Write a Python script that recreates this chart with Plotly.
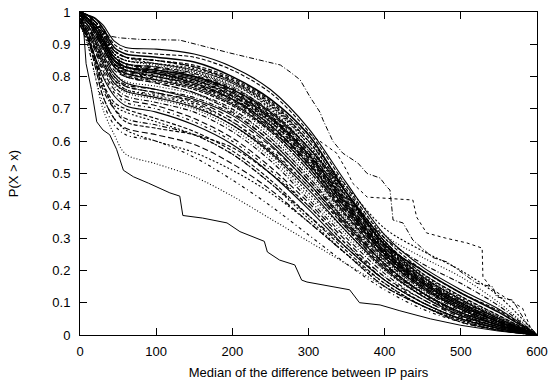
import plotly.graph_objects as go

# ---------------- data ----------------
x_grid = [0, 10, 20, 30, 45, 60, 100, 150, 200, 250, 300, 350, 400, 450, 500, 550, 600]

# dense core band
core_01 = [1.00, 0.99, 0.98, 0.95, 0.89, 0.87, 0.86, 0.845, 0.80, 0.73, 0.62, 0.44, 0.28, 0.20, 0.13, 0.07, 0.0]
core_02 = [1.00, 0.99, 0.97, 0.94, 0.88, 0.86, 0.85, 0.83, 0.79, 0.72, 0.60, 0.44, 0.29, 0.19, 0.12, 0.06, 0.0]
core_03 = [1.00, 0.98, 0.97, 0.93, 0.87, 0.85, 0.84, 0.82, 0.78, 0.70, 0.58, 0.43, 0.28, 0.18, 0.11, 0.05, 0.0]
core_04 = [0.99, 0.98, 0.96, 0.93, 0.87, 0.84, 0.83, 0.81, 0.77, 0.69, 0.57, 0.42, 0.28, 0.18, 0.10, 0.05, 0.0]
core_05 = [1.00, 0.99, 0.96, 0.92, 0.86, 0.84, 0.82, 0.80, 0.76, 0.68, 0.56, 0.41, 0.27, 0.17, 0.10, 0.045, 0.0]
core_06 = [1.00, 0.98, 0.96, 0.92, 0.86, 0.83, 0.82, 0.80, 0.75, 0.67, 0.55, 0.40, 0.26, 0.17, 0.10, 0.04, 0.0]
core_07 = [0.99, 0.98, 0.95, 0.91, 0.85, 0.83, 0.81, 0.79, 0.74, 0.66, 0.54, 0.40, 0.26, 0.16, 0.09, 0.04, 0.0]
core_08 = [1.00, 0.98, 0.95, 0.91, 0.85, 0.82, 0.81, 0.78, 0.73, 0.65, 0.53, 0.39, 0.25, 0.16, 0.09, 0.04, 0.0]
core_09 = [0.99, 0.97, 0.95, 0.90, 0.84, 0.82, 0.80, 0.78, 0.73, 0.64, 0.52, 0.38, 0.25, 0.15, 0.085, 0.035, 0.0]
core_10 = [1.00, 0.98, 0.94, 0.90, 0.84, 0.81, 0.80, 0.77, 0.72, 0.63, 0.51, 0.37, 0.24, 0.15, 0.08, 0.035, 0.0]
core_11 = [0.98, 0.97, 0.94, 0.89, 0.83, 0.81, 0.79, 0.76, 0.71, 0.62, 0.50, 0.36, 0.23, 0.14, 0.08, 0.03, 0.0]
core_12 = [1.00, 0.97, 0.93, 0.89, 0.83, 0.80, 0.78, 0.75, 0.70, 0.61, 0.49, 0.35, 0.23, 0.14, 0.075, 0.03, 0.0]
core_13 = [0.99, 0.97, 0.93, 0.88, 0.82, 0.80, 0.78, 0.75, 0.69, 0.60, 0.48, 0.35, 0.22, 0.13, 0.07, 0.03, 0.0]
core_14 = [1.00, 0.98, 0.94, 0.89, 0.83, 0.80, 0.79, 0.77, 0.73, 0.66, 0.55, 0.42, 0.28, 0.17, 0.10, 0.045, 0.0]
core_15 = [0.99, 0.98, 0.95, 0.91, 0.85, 0.83, 0.82, 0.80, 0.76, 0.69, 0.58, 0.44, 0.29, 0.18, 0.11, 0.05, 0.0]
core_16 = [1.00, 0.99, 0.97, 0.94, 0.88, 0.86, 0.85, 0.835, 0.795, 0.725, 0.61, 0.45, 0.29, 0.19, 0.12, 0.06, 0.0]
core_17 = [1.00, 0.99, 0.97, 0.93, 0.87, 0.85, 0.84, 0.825, 0.785, 0.715, 0.60, 0.44, 0.285, 0.185, 0.115, 0.055, 0.0]
core_18 = [0.99, 0.98, 0.96, 0.93, 0.87, 0.85, 0.835, 0.815, 0.775, 0.705, 0.59, 0.43, 0.28, 0.18, 0.11, 0.05, 0.0]
core_19 = [1.00, 0.98, 0.96, 0.92, 0.86, 0.84, 0.83, 0.81, 0.765, 0.695, 0.58, 0.425, 0.275, 0.175, 0.105, 0.05, 0.0]
core_20 = [1.00, 0.98, 0.96, 0.92, 0.86, 0.84, 0.825, 0.805, 0.76, 0.685, 0.57, 0.415, 0.27, 0.17, 0.10, 0.045, 0.0]
core_21 = [0.99, 0.98, 0.95, 0.92, 0.86, 0.835, 0.82, 0.80, 0.755, 0.68, 0.565, 0.41, 0.265, 0.17, 0.10, 0.045, 0.0]
core_22 = [1.00, 0.98, 0.95, 0.91, 0.85, 0.83, 0.815, 0.795, 0.75, 0.675, 0.56, 0.405, 0.26, 0.165, 0.095, 0.04, 0.0]
core_23 = [1.00, 0.98, 0.95, 0.91, 0.85, 0.83, 0.81, 0.79, 0.745, 0.67, 0.555, 0.40, 0.26, 0.16, 0.095, 0.04, 0.0]
core_24 = [0.99, 0.97, 0.95, 0.91, 0.85, 0.825, 0.81, 0.785, 0.74, 0.665, 0.55, 0.395, 0.255, 0.16, 0.09, 0.04, 0.0]
core_25 = [1.00, 0.98, 0.95, 0.90, 0.84, 0.82, 0.805, 0.78, 0.735, 0.655, 0.54, 0.39, 0.25, 0.155, 0.09, 0.04, 0.0]
core_26 = [0.99, 0.97, 0.94, 0.90, 0.84, 0.82, 0.80, 0.775, 0.73, 0.65, 0.535, 0.385, 0.25, 0.155, 0.085, 0.035, 0.0]
core_27 = [1.00, 0.97, 0.94, 0.90, 0.84, 0.815, 0.80, 0.775, 0.725, 0.645, 0.53, 0.38, 0.245, 0.15, 0.085, 0.035, 0.0]
core_28 = [0.99, 0.97, 0.94, 0.89, 0.835, 0.81, 0.795, 0.77, 0.72, 0.64, 0.525, 0.375, 0.24, 0.15, 0.08, 0.035, 0.0]
core_29 = [1.00, 0.97, 0.94, 0.89, 0.83, 0.81, 0.79, 0.765, 0.715, 0.635, 0.52, 0.37, 0.24, 0.145, 0.08, 0.03, 0.0]
core_30 = [0.98, 0.97, 0.93, 0.89, 0.83, 0.805, 0.785, 0.76, 0.71, 0.63, 0.51, 0.365, 0.235, 0.145, 0.08, 0.03, 0.0]
core_31 = [1.00, 0.99, 0.97, 0.94, 0.88, 0.86, 0.85, 0.83, 0.785, 0.71, 0.59, 0.43, 0.275, 0.18, 0.11, 0.055, 0.0]
core_32 = [1.00, 0.99, 0.96, 0.93, 0.87, 0.85, 0.84, 0.815, 0.77, 0.69, 0.575, 0.42, 0.27, 0.175, 0.105, 0.05, 0.0]
core_33 = [0.99, 0.98, 0.96, 0.92, 0.86, 0.84, 0.83, 0.80, 0.755, 0.675, 0.56, 0.41, 0.265, 0.165, 0.10, 0.045, 0.0]
core_34 = [1.00, 0.98, 0.95, 0.91, 0.85, 0.83, 0.815, 0.79, 0.74, 0.66, 0.545, 0.395, 0.255, 0.16, 0.09, 0.04, 0.0]
core_35 = [1.00, 0.98, 0.95, 0.91, 0.85, 0.82, 0.805, 0.785, 0.735, 0.65, 0.535, 0.39, 0.25, 0.155, 0.09, 0.04, 0.0]

# sparser curves under the core
mid_01 = [0.99, 0.96, 0.92, 0.87, 0.81, 0.78, 0.76, 0.73, 0.68, 0.59, 0.47, 0.34, 0.22, 0.13, 0.07, 0.03, 0.0]
mid_02 = [0.98, 0.96, 0.91, 0.86, 0.80, 0.77, 0.75, 0.72, 0.66, 0.57, 0.46, 0.33, 0.21, 0.13, 0.07, 0.03, 0.0]
mid_03 = [0.99, 0.95, 0.90, 0.85, 0.79, 0.76, 0.74, 0.71, 0.65, 0.56, 0.44, 0.32, 0.20, 0.12, 0.065, 0.025, 0.0]
mid_04 = [0.97, 0.95, 0.90, 0.84, 0.78, 0.75, 0.73, 0.70, 0.64, 0.55, 0.43, 0.31, 0.20, 0.12, 0.06, 0.025, 0.0]
mid_05 = [0.98, 0.94, 0.89, 0.83, 0.77, 0.74, 0.72, 0.69, 0.63, 0.54, 0.42, 0.30, 0.19, 0.11, 0.06, 0.02, 0.0]
mid_06 = [0.97, 0.93, 0.88, 0.82, 0.76, 0.73, 0.71, 0.67, 0.61, 0.52, 0.41, 0.29, 0.18, 0.11, 0.055, 0.02, 0.0]
mid_07 = [0.98, 0.94, 0.88, 0.81, 0.75, 0.72, 0.70, 0.66, 0.60, 0.51, 0.40, 0.28, 0.18, 0.10, 0.05, 0.02, 0.0]
mid_08 = [0.96, 0.92, 0.86, 0.80, 0.74, 0.71, 0.69, 0.65, 0.59, 0.50, 0.39, 0.27, 0.17, 0.10, 0.05, 0.02, 0.0]
mid_09 = [0.97, 0.92, 0.85, 0.78, 0.72, 0.70, 0.67, 0.63, 0.57, 0.48, 0.37, 0.26, 0.16, 0.09, 0.045, 0.015, 0.0]
mid_10 = [0.96, 0.91, 0.84, 0.77, 0.71, 0.69, 0.66, 0.62, 0.56, 0.47, 0.36, 0.25, 0.15, 0.09, 0.04, 0.015, 0.0]
mid_11 = [0.98, 0.96, 0.92, 0.87, 0.81, 0.785, 0.77, 0.745, 0.695, 0.61, 0.49, 0.355, 0.225, 0.135, 0.07, 0.03, 0.0]
mid_12 = [0.99, 0.96, 0.91, 0.86, 0.80, 0.775, 0.76, 0.735, 0.685, 0.60, 0.48, 0.345, 0.22, 0.13, 0.07, 0.03, 0.0]
mid_13 = [0.98, 0.95, 0.91, 0.85, 0.79, 0.77, 0.75, 0.725, 0.67, 0.585, 0.47, 0.335, 0.215, 0.13, 0.065, 0.025, 0.0]
mid_14 = [0.97, 0.95, 0.90, 0.85, 0.79, 0.76, 0.745, 0.715, 0.66, 0.575, 0.46, 0.33, 0.21, 0.125, 0.065, 0.025, 0.0]
mid_15 = [0.98, 0.94, 0.89, 0.84, 0.78, 0.755, 0.735, 0.705, 0.65, 0.565, 0.45, 0.32, 0.205, 0.12, 0.06, 0.025, 0.0]

# lower curves
low_01 = [0.97, 0.93, 0.86, 0.78, 0.70, 0.66, 0.64, 0.62, 0.58, 0.50, 0.40, 0.28, 0.17, 0.10, 0.05, 0.02, 0.0]
low_02 = [0.97, 0.92, 0.84, 0.74, 0.67, 0.635, 0.60, 0.565, 0.51, 0.44, 0.35, 0.25, 0.16, 0.09, 0.045, 0.015, 0.0]
low_03 = [0.96, 0.90, 0.80, 0.70, 0.62, 0.56, 0.53, 0.49, 0.43, 0.36, 0.29, 0.22, 0.15, 0.09, 0.05, 0.02, 0.0]
low_04 = [0.98, 0.93, 0.85, 0.76, 0.70, 0.67, 0.65, 0.62, 0.56, 0.47, 0.37, 0.27, 0.17, 0.10, 0.05, 0.02, 0.0]
low_05 = [0.97, 0.92, 0.83, 0.74, 0.67, 0.64, 0.62, 0.59, 0.53, 0.45, 0.35, 0.25, 0.15, 0.09, 0.04, 0.015, 0.0]
low_06 = [0.96, 0.90, 0.80, 0.72, 0.65, 0.62, 0.60, 0.55, 0.48, 0.40, 0.31, 0.22, 0.14, 0.08, 0.04, 0.015, 0.0]

# curves above the core
up_01 = [1.00, 0.99, 0.98, 0.96, 0.91, 0.89, 0.885, 0.87, 0.83, 0.76, 0.64, 0.47, 0.31, 0.21, 0.14, 0.08, 0.0]
up_02 = [1.00, 0.99, 0.97, 0.95, 0.90, 0.88, 0.87, 0.86, 0.82, 0.75, 0.63, 0.46, 0.30, 0.20, 0.13, 0.075, 0.0]
up_03 = [1.00, 0.99, 0.97, 0.94, 0.88, 0.86, 0.84, 0.82, 0.78, 0.71, 0.60, 0.46, 0.33, 0.26, 0.20, 0.12, 0.0]
up_04 = [0.99, 0.98, 0.96, 0.92, 0.86, 0.84, 0.82, 0.80, 0.76, 0.69, 0.58, 0.45, 0.31, 0.24, 0.18, 0.10, 0.0]
up_05 = [1.00, 0.98, 0.95, 0.91, 0.85, 0.83, 0.81, 0.79, 0.74, 0.67, 0.56, 0.43, 0.30, 0.22, 0.16, 0.09, 0.0]

# step-like outliers
top_x = [0, 10, 20, 30, 40, 52, 80, 131, 197, 236, 263, 276, 289, 302, 315, 319, 332, 345, 365,
         377, 394, 403, 407, 411, 424, 437, 463, 482, 512, 521, 542, 547, 568, 586, 600]
top_y = [1.00, 0.98, 0.96, 0.94, 0.925, 0.92, 0.915, 0.913, 0.873, 0.851, 0.836, 0.814, 0.79, 0.737, 0.69,
         0.666, 0.60, 0.563, 0.532, 0.50, 0.486, 0.458, 0.449, 0.356, 0.347, 0.294, 0.24, 0.226, 0.176,
         0.16, 0.149, 0.118, 0.108, 0.037, 0.0]

step_x = [0, 10, 20, 30, 45, 60, 100, 150, 200, 250, 289, 315, 337, 350, 358, 377, 437, 442, 455,
          480, 508, 528, 529, 542, 581, 591, 600]
step_y = [1.00, 0.98, 0.96, 0.93, 0.88, 0.86, 0.85, 0.83, 0.79, 0.72, 0.644, 0.60, 0.563, 0.51, 0.47,
          0.427, 0.418, 0.365, 0.316, 0.30, 0.285, 0.269, 0.18, 0.14, 0.083, 0.025, 0.0]

lowest_x = [0, 4, 8, 15, 22, 30, 39, 48, 57, 70, 90, 105, 118, 131, 135, 161, 193, 210, 232, 242,
            246, 262, 282, 291, 298, 354, 367, 394, 420, 460, 500, 550, 600]
lowest_y = [1.00, 0.97, 0.84, 0.76, 0.66, 0.635, 0.62, 0.575, 0.51, 0.49, 0.47, 0.455, 0.44, 0.43, 0.37,
            0.362, 0.347, 0.32, 0.30, 0.29, 0.257, 0.232, 0.217, 0.17, 0.164, 0.14, 0.10, 0.093, 0.075,
            0.05, 0.03, 0.012, 0.0]

x_ticks = [0, 100, 200, 300, 400, 500, 600]
y_ticks = [0, 0.1, 0.2, 0.3, 0.4, 0.5, 0.6, 0.7, 0.8, 0.9, 1]
y_tick_text = ["0", "0.1", "0.2", "0.3", "0.4", "0.5", "0.6", "0.7", "0.8", "0.9", "1"]

# ---------------- figure ----------------
dashes = ["solid", "4px,2px", "2px,2px", "1px,2px", "5px,2px,1px,2px", "6px,3px", "3px,3px,1px,3px"]

smooth_curves = [core_01, core_02, core_03, core_04, core_05, core_06, core_07, core_08, core_09,
                 core_10, core_11, core_12, core_13, core_14, core_15, core_16, core_17, core_18,
                 core_19, core_20, core_21, core_22, core_23, core_24, core_25, core_26, core_27,
                 core_28, core_29, core_30, core_31, core_32, core_33, core_34, core_35,
                 mid_01, mid_02, mid_03, mid_04, mid_05, mid_06, mid_07, mid_08, mid_09, mid_10,
                 mid_11, mid_12, mid_13, mid_14, mid_15,
                 low_01, low_02, low_03, low_04, low_05, low_06,
                 up_01, up_02, up_03, up_04, up_05]

fig = go.Figure()
for i, ys in enumerate(smooth_curves):
    w = 1.6 if ys is core_01 else 1.1
    d = "solid" if ys is core_01 else dashes[i % len(dashes)]
    fig.add_trace(go.Scatter(x=x_grid, y=ys, mode="lines",
                             line=dict(color="black", width=w, dash=d, shape="spline", smoothing=0.9),
                             showlegend=False, hoverinfo="skip"))

fig.add_trace(go.Scatter(x=top_x, y=top_y, mode="lines",
                         line=dict(color="black", width=1, dash="5px,2px,1px,2px"),
                         showlegend=False, hoverinfo="skip"))
fig.add_trace(go.Scatter(x=step_x, y=step_y, mode="lines",
                         line=dict(color="black", width=1, dash="3px,3px"),
                         showlegend=False, hoverinfo="skip"))
fig.add_trace(go.Scatter(x=lowest_x, y=lowest_y, mode="lines",
                         line=dict(color="black", width=1, dash="solid"),
                         showlegend=False, hoverinfo="skip"))

font = dict(family="Liberation Sans, Arial, sans-serif", size=13, color="black")
fig.update_layout(
    width=553, height=384,
    margin=dict(l=80, r=16, t=12, b=49, autoexpand=False),
    paper_bgcolor="white", plot_bgcolor="white",
    font=font,
    xaxis=dict(range=[0, 600], tickvals=x_ticks, ticks="inside", ticklen=7, tickcolor="black",
               showline=True, linecolor="black", linewidth=1, mirror="ticks", showgrid=False,
               zeroline=False, ticklabelstandoff=4, automargin=False,
               title=dict(text="Median of the difference between IP pairs", standoff=10, font=font)),
    yaxis=dict(range=[0, 1], tickvals=y_ticks, ticktext=y_tick_text, ticks="inside", ticklen=7,
               tickcolor="black", showline=True, linecolor="black", linewidth=1, mirror="ticks",
               showgrid=False, zeroline=False, ticklabelstandoff=6, automargin=False,
               title=dict(text="P(X > x)", standoff=30, font=font)),
)

fig.write_html("out.html")
